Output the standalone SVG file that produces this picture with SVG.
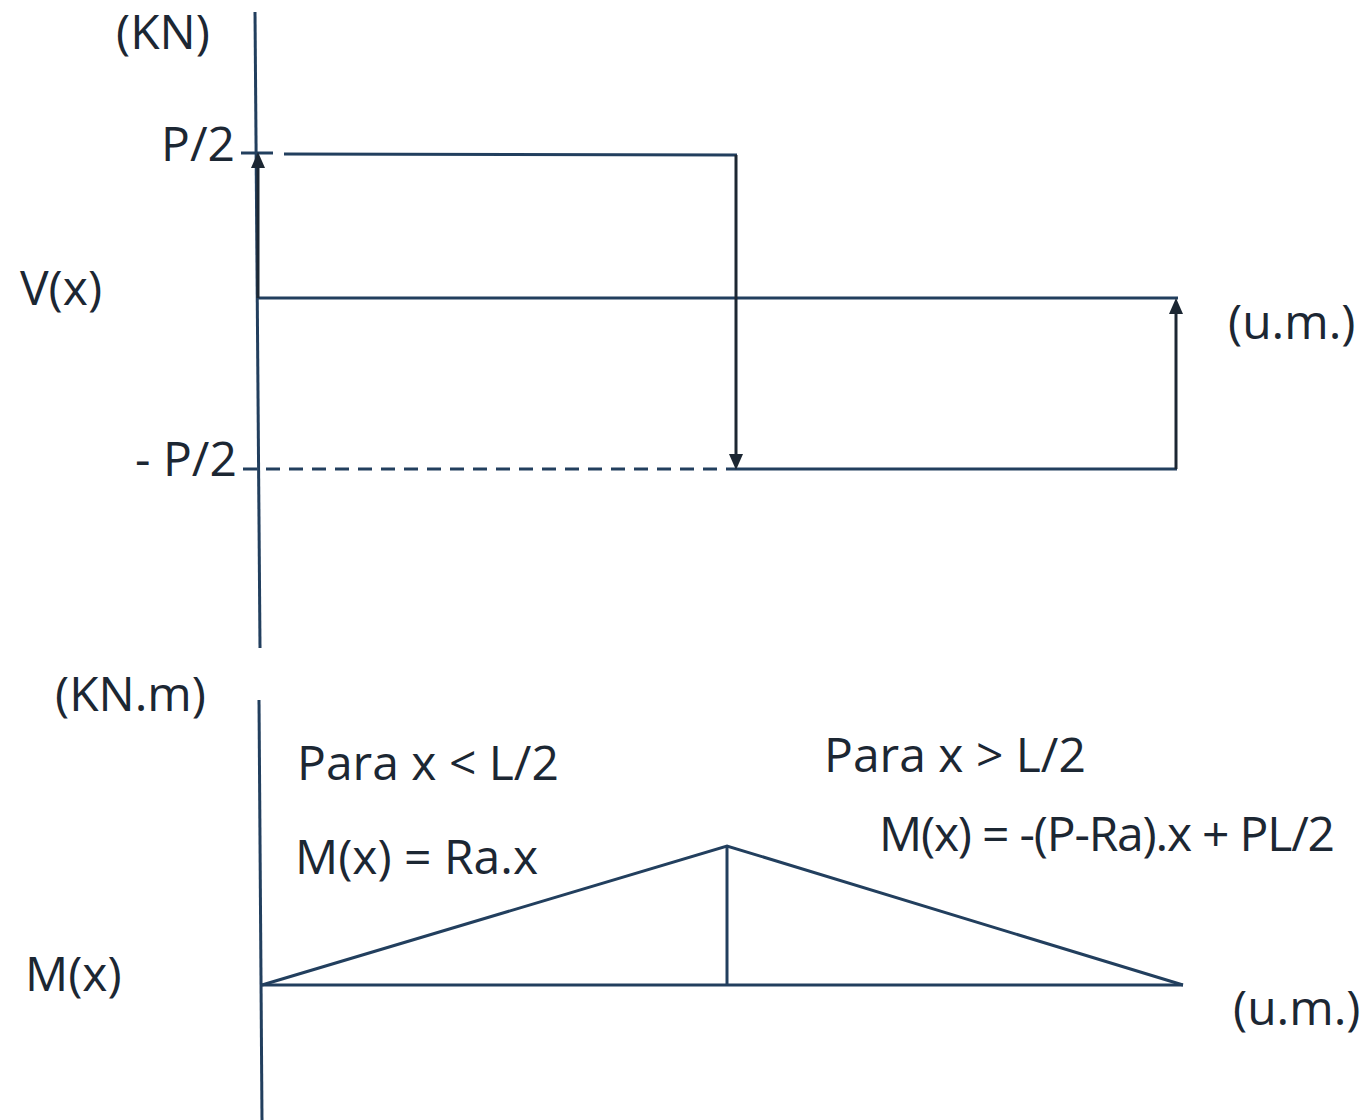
<svg xmlns="http://www.w3.org/2000/svg" width="1368" height="1120" viewBox="0 0 1368 1120">
<defs>
<style>
.t{font-family:"Open Sans","Noto Sans",sans-serif;font-size:48px;fill:#1c2733}
.l{stroke:#223f5e;stroke-width:3;fill:none}
.a{stroke:#1c2733;stroke-width:3;fill:none}
.d{stroke:#223f5e;stroke-width:3;fill:none;stroke-dasharray:14 9}
.h{fill:#1c2733}
</style>
</defs>
<rect width="1368" height="1120" fill="#ffffff"/>
<g id="connectors">
<line id="v-axis" class="l" x1="255" y1="12" x2="260" y2="648"/>
<line class="l" x1="241" y1="153" x2="273" y2="153"/>
<line class="l" x1="284" y1="154" x2="737" y2="155"/>
<line class="l" x1="258" y1="298" x2="1178" y2="298"/>
<line class="d" x1="243" y1="469" x2="735" y2="469"/>
<line class="l" x1="735" y1="469" x2="1177" y2="469"/>
<path d="M258,298 L258,167" class="a"/>
<path class="h" d="M251,168 L258,152 L265,168 z"/>
<path d="M736,155 L736,455" class="a"/>
<path class="h" d="M729,454 L736,470 L743,454 z"/>
<path d="M1176,469 L1176,313" class="a"/>
<path class="h" d="M1169,314 L1176,298 L1183,314 z"/>
<line id="m-axis" class="l" x1="259" y1="700" x2="262" y2="1120"/>
<line class="l" x1="261" y1="985" x2="1183" y2="985"/>
<polyline class="l" points="262,985 727,846 1183,985"/>
<line class="l" x1="727" y1="846" x2="727" y2="985"/>
</g>
<g id="labels">
<text class="t" x="116" y="49">(KN)</text>
<text class="t" x="161" y="161">P/2</text>
<text class="t" x="20" y="305">V(x)</text>
<text class="t" x="1228" y="339">(u.m.)</text>
<text class="t" x="135" y="476">- P/2</text>
<text class="t" x="55" y="711">(KN.m)</text>
<text class="t" x="297" y="780">Para x &lt; L/2</text>
<text class="t" x="824" y="772">Para x &gt; L/2</text>
<text class="t" x="879" y="851" textLength="456" lengthAdjust="spacing">M(x) = -(P-Ra).x + PL/2</text>
<text class="t" x="295" y="874">M(x) = Ra.x</text>
<text class="t" x="25" y="991">M(x)</text>
<text class="t" x="1233" y="1025">(u.m.)</text>
</g>
</svg>
